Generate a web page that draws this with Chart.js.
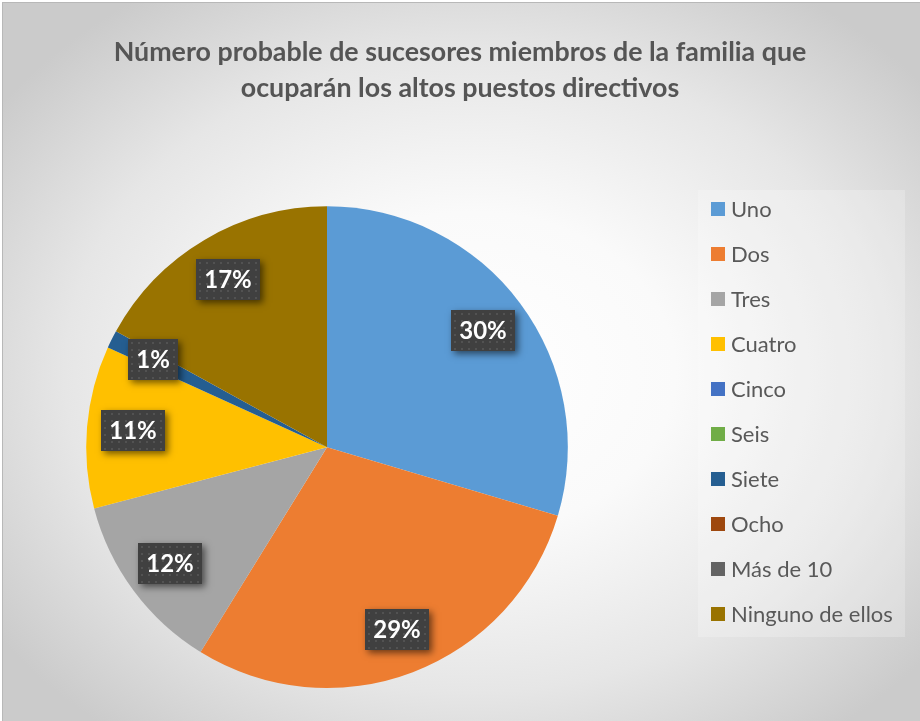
<!DOCTYPE html>
<html>
<head>
<meta charset="utf-8">
<script src="https://cdn.jsdelivr.net/npm/chart.js@4.4.0/dist/chart.umd.min.js"></script>
<style>
  html, body { margin: 0; padding: 0; width: 920px; height: 721px; overflow: hidden; }
  #bg {
    position: absolute; left: 2px; top: 2px; width: 940px; height: 740px;
    border: 1px solid #b8b8b8; box-sizing: border-box;
    background: radial-gradient(ellipse 62% 62% at 50% 50%, #ffffff 0%, #fafafa 35%, #e6e6e6 70%, #cbcbcb 100%);
  }
  canvas { position: absolute; left: 0; top: 0; }
</style>
</head>
<body>
<div id="bg"></div>
<canvas id="c" width="920" height="721"></canvas>
<script>
const categories = ["Uno", "Dos", "Tres", "Cuatro", "Cinco", "Seis", "Siete", "Ocho", "Más de 10", "Ninguno de ellos"];
const values = [29.6, 29.2, 12.1, 10.9, 0, 0, 1.2, 0, 0, 17.0];
const colors = ["#5B9BD5", "#ED7D31", "#A5A5A5", "#FFC000", "#4472C4", "#70AD47", "#255E91", "#9E480E", "#636363", "#997300"];
const titleLines = ["Número probable de sucesores miembros de la familia que", "ocuparán los altos puestos directivos"];

const FONT = "Lato, 'Open Sans', sans-serif";

const titleWidenPlugin = {
  id: 'titleWiden',
  afterLayout(chart) {
    const t = chart.titleBlock;
    if (t) { t.left = 0; t.right = chart.width; t.width = chart.width; }
  }
};

const dataLabelPlugin = {
  id: 'dataLabelBoxes',
  afterDatasetsDraw(chart) {
    const ctx = chart.ctx;
    const meta = chart.getDatasetMeta(0);
    const data = chart.data.datasets[0].data;
    const total = data.reduce((a, b) => a + b, 0);
    ctx.save();
    ctx.font = "bold 24px " + FONT;
    meta.data.forEach((arc, i) => {
      const v = data[i];
      if (!v) return;
      const p = arc.getProps(['x', 'y', 'startAngle', 'endAngle', 'outerRadius'], true);
      const mid = (p.startAngle + p.endAngle) / 2;
      const r = p.outerRadius * 0.81;
      const cx = p.x + Math.cos(mid) * r;
      const cy = p.y + Math.sin(mid) * r;
      const text = Math.round(v / total * 100) + '%';
      const tw = ctx.measureText(text).width;
      const w = Math.round(tw + 16), h = 41;
      const x0 = Math.round(cx - w / 2), y0 = Math.round(cy - h / 2);
      ctx.save();
      ctx.shadowColor = 'rgba(0,0,0,0.55)';
      ctx.shadowBlur = 7;
      ctx.shadowOffsetX = 3;
      ctx.shadowOffsetY = 3;
      ctx.fillStyle = '#404040';
      ctx.fillRect(x0, y0, w, h);
      ctx.restore();
      ctx.fillStyle = '#525252';
      for (let yy = y0 + 3; yy < y0 + h - 1; yy += 7) {
        for (let xx = x0 + 3; xx < x0 + w - 1; xx += 7) {
          ctx.fillRect(xx, yy, 2, 2);
        }
      }
      ctx.fillStyle = '#ffffff';
      ctx.textAlign = 'center';
      ctx.textBaseline = 'middle';
      ctx.fillText(text, x0 + w / 2, y0 + h / 2 + 1);
    });
    ctx.restore();
  }
};

const legendPlugin = {
  id: 'sideLegend',
  afterDraw(chart) {
    const ctx = chart.ctx;
    const labels = chart.data.labels;
    const bgs = chart.data.datasets[0].backgroundColor;
    ctx.save();
    ctx.fillStyle = 'rgba(255,255,255,0.22)';
    ctx.fillRect(698, 190, 207, 447);
    ctx.font = "22px " + FONT;
    ctx.textBaseline = 'middle';
    ctx.textAlign = 'left';
    labels.forEach((lab, i) => {
      const yc = 209 + i * 45;
      ctx.fillStyle = bgs[i];
      ctx.fillRect(711, yc - 7, 14, 14);
      ctx.fillStyle = '#595959';
      ctx.fillText(lab, 731, yc + 1);
    });
    ctx.restore();
  }
};

new Chart(document.getElementById('c'), {
  type: 'pie',
  data: {
    labels: categories,
    datasets: [{
      data: values,
      backgroundColor: colors,
      borderWidth: 0
    }]
  },
  options: {
    responsive: false,
    devicePixelRatio: 1,
    animation: false,
    layout: { padding: { left: 86, right: 352, top: 0, bottom: 33 } },
    plugins: {
      legend: { display: false },
      tooltip: { enabled: false },
      title: {
        display: true,
        text: titleLines,
        color: '#555555',
        font: { family: FONT, size: 26.8, weight: 'bold', lineHeight: 1.35 },
        padding: { top: 34, bottom: 100 }
      }
    }
  },
  plugins: [titleWidenPlugin, dataLabelPlugin, legendPlugin]
});
</script>
</body>
</html>
